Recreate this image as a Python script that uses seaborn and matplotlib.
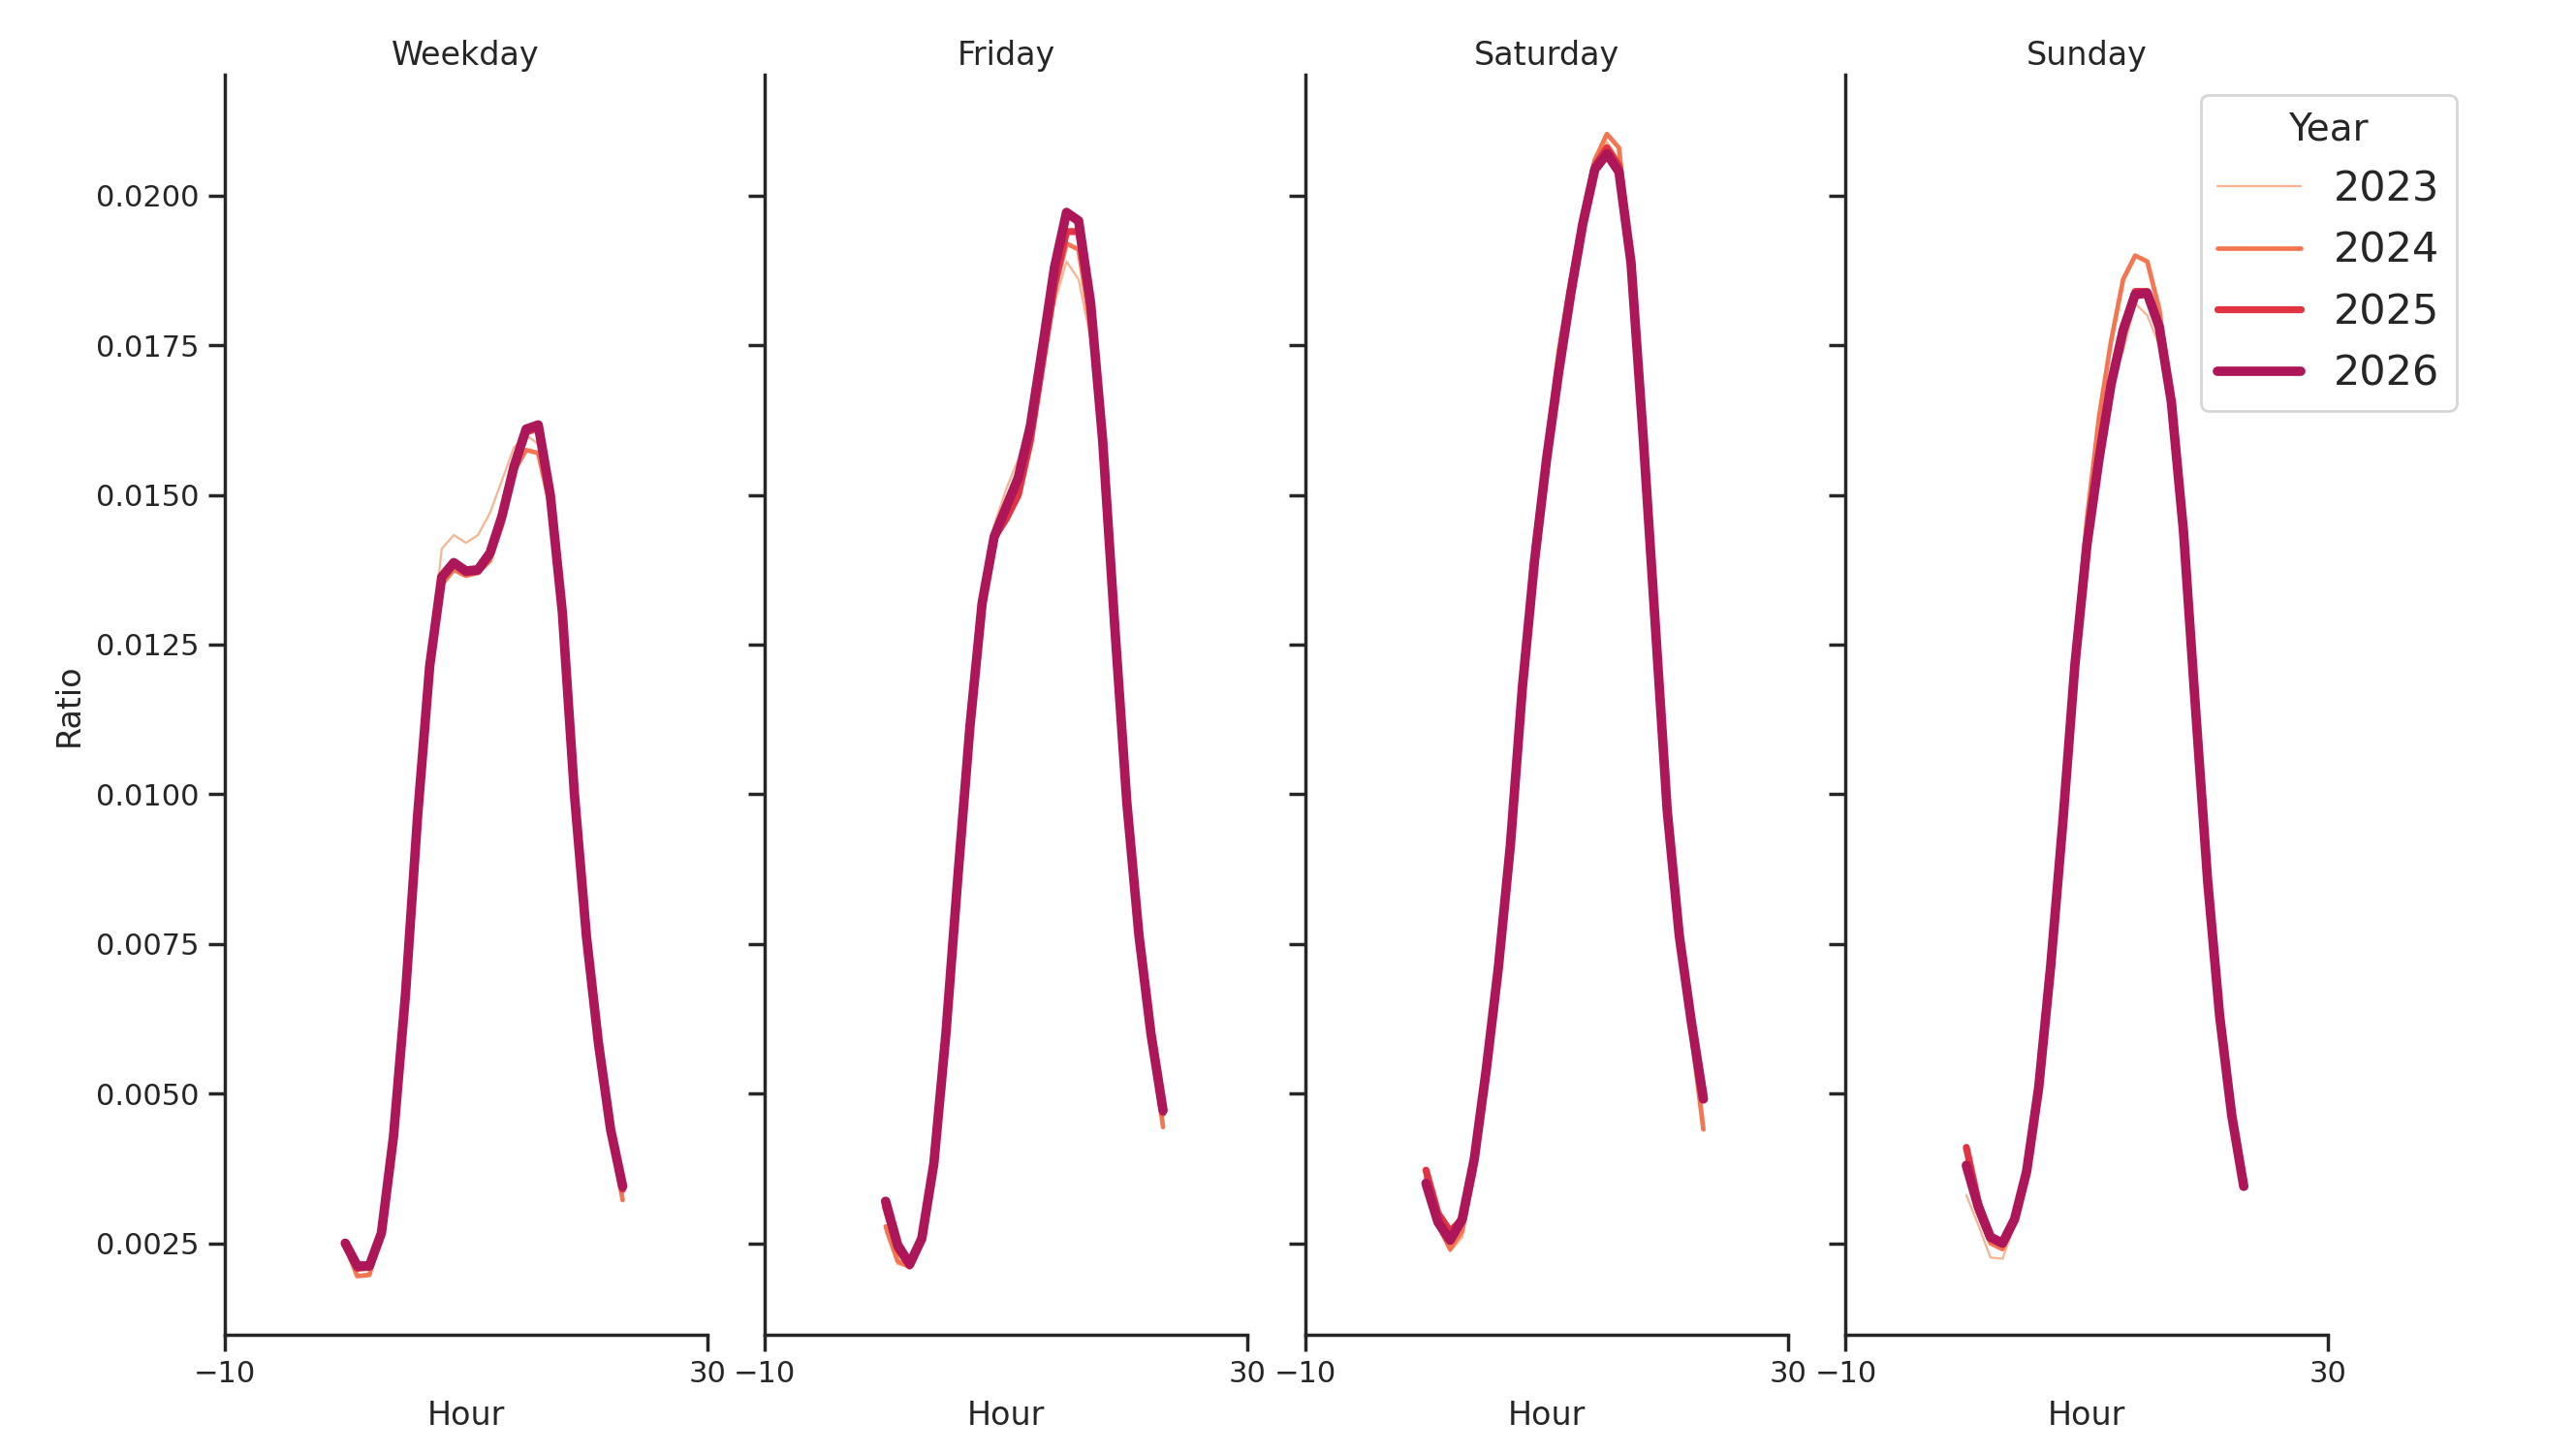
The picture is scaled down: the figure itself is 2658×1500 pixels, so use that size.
import numpy as np
import pandas as pd
import seaborn as sns
import matplotlib.pyplot as plt

hours = list(range(24))
days = ["Weekday", "Friday", "Saturday", "Sunday"]
years = [2023, 2024, 2025, 2026]

# share of daily trips per hour
weekday_2023 = [0.00245, 0.00195, 0.00200, 0.00268, 0.00425, 0.00670, 0.00970, 0.01225, 0.01410, 0.01433,
                0.01420, 0.01433, 0.01470, 0.01525, 0.01580, 0.01600, 0.01585, 0.01480, 0.01290, 0.01000,
                0.00760, 0.00580, 0.00440, 0.00330]
weekday_2024 = [0.00245, 0.00195, 0.00197, 0.00265, 0.00425, 0.00668, 0.00965, 0.01210, 0.01350, 0.01375,
                0.01365, 0.01370, 0.01390, 0.01450, 0.01540, 0.01575, 0.01570, 0.01480, 0.01290, 0.01000,
                0.00760, 0.00578, 0.00435, 0.00322]
weekday_2025 = [0.00250, 0.00208, 0.00210, 0.00268, 0.00428, 0.00668, 0.00965, 0.01214, 0.01360, 0.01385,
                0.01370, 0.01372, 0.01400, 0.01462, 0.01545, 0.01605, 0.01612, 0.01500, 0.01300, 0.01000,
                0.00762, 0.00582, 0.00440, 0.00340]
weekday_2026 = [0.00250, 0.00212, 0.00212, 0.00267, 0.00428, 0.00667, 0.00964, 0.01214, 0.01363, 0.01387,
                0.01373, 0.01375, 0.01403, 0.01465, 0.01548, 0.01610, 0.01617, 0.01500, 0.01304, 0.01000,
                0.00762, 0.00583, 0.00440, 0.00345]

friday_2023 = [0.00270, 0.00215, 0.00210, 0.00255, 0.00380, 0.00600, 0.00870, 0.01120, 0.01330, 0.01450,
               0.01510, 0.01560, 0.01630, 0.01710, 0.01820, 0.01890, 0.01860, 0.01760, 0.01570, 0.01270,
               0.00980, 0.00760, 0.00595, 0.00455]
friday_2024 = [0.00278, 0.00220, 0.00210, 0.00255, 0.00380, 0.00600, 0.00865, 0.01115, 0.01320, 0.01435,
               0.01490, 0.01530, 0.01610, 0.01720, 0.01840, 0.01920, 0.01910, 0.01780, 0.01580, 0.01275,
               0.00980, 0.00760, 0.00595, 0.00444]
friday_2025 = [0.00310, 0.00240, 0.00212, 0.00255, 0.00382, 0.00600, 0.00864, 0.01115, 0.01318, 0.01428,
               0.01460, 0.01500, 0.01590, 0.01720, 0.01850, 0.01940, 0.01940, 0.01810, 0.01588, 0.01280,
               0.00985, 0.00765, 0.00600, 0.00468]
friday_2026 = [0.00320, 0.00247, 0.00215, 0.00258, 0.00383, 0.00600, 0.00864, 0.01115, 0.01319, 0.01430,
               0.01480, 0.01529, 0.01615, 0.01745, 0.01880, 0.01972, 0.01958, 0.01820, 0.01590, 0.01280,
               0.00986, 0.00765, 0.00600, 0.00472]

saturday_2023 = [0.00360, 0.00285, 0.00236, 0.00260, 0.00360, 0.00520, 0.00695, 0.00920, 0.01190, 0.01410,
                 0.01570, 0.01730, 0.01850, 0.01960, 0.02050, 0.02090, 0.02060, 0.01890, 0.01600, 0.01285,
                 0.00970, 0.00760, 0.00610, 0.00460]
saturday_2024 = [0.00360, 0.00280, 0.00240, 0.00270, 0.00370, 0.00530, 0.00700, 0.00920, 0.01195, 0.01420,
                 0.01580, 0.01740, 0.01860, 0.01970, 0.02060, 0.02103, 0.02080, 0.01890, 0.01600, 0.01285,
                 0.00970, 0.00760, 0.00600, 0.00440]
saturday_2025 = [0.00372, 0.00300, 0.00270, 0.00290, 0.00385, 0.00540, 0.00710, 0.00920, 0.01185, 0.01395,
                 0.01562, 0.01705, 0.01838, 0.01952, 0.02050, 0.02080, 0.02050, 0.01890, 0.01602, 0.01288,
                 0.00975, 0.00765, 0.00622, 0.00500]
saturday_2026 = [0.00350, 0.00285, 0.00255, 0.00290, 0.00390, 0.00540, 0.00710, 0.00915, 0.01180, 0.01390,
                 0.01560, 0.01705, 0.01836, 0.01953, 0.02044, 0.02070, 0.02040, 0.01888, 0.01600, 0.01287,
                 0.00973, 0.00764, 0.00620, 0.00491]

sunday_2023 = [0.00330, 0.00280, 0.00226, 0.00224, 0.00280, 0.00370, 0.00510, 0.00714, 0.00960, 0.01230,
               0.01440, 0.01590, 0.01690, 0.01740, 0.01820, 0.01800, 0.01750, 0.01630, 0.01430, 0.01140,
               0.00855, 0.00628, 0.00462, 0.00342]
sunday_2024 = [0.00370, 0.00300, 0.00250, 0.00240, 0.00285, 0.00375, 0.00520, 0.00725, 0.00975, 0.01240,
               0.01460, 0.01630, 0.01757, 0.01860, 0.01900, 0.01890, 0.01810, 0.01660, 0.01440, 0.01144,
               0.00857, 0.00630, 0.00464, 0.00345]
sunday_2025 = [0.00410, 0.00318, 0.00262, 0.00250, 0.00290, 0.00372, 0.00512, 0.00716, 0.00955, 0.01218,
               0.01420, 0.01565, 0.01690, 0.01780, 0.01840, 0.01840, 0.01782, 0.01655, 0.01440, 0.01144,
               0.00857, 0.00630, 0.00464, 0.00345]
sunday_2026 = [0.00380, 0.00310, 0.00260, 0.00250, 0.00290, 0.00370, 0.00510, 0.00714, 0.00953, 0.01216,
               0.01417, 0.01560, 0.01685, 0.01775, 0.01835, 0.01837, 0.01780, 0.01655, 0.01440, 0.01144,
               0.00857, 0.00630, 0.00464, 0.00345]

ratios = {
    ("Weekday", 2023): weekday_2023, ("Weekday", 2024): weekday_2024,
    ("Weekday", 2025): weekday_2025, ("Weekday", 2026): weekday_2026,
    ("Friday", 2023): friday_2023, ("Friday", 2024): friday_2024,
    ("Friday", 2025): friday_2025, ("Friday", 2026): friday_2026,
    ("Saturday", 2023): saturday_2023, ("Saturday", 2024): saturday_2024,
    ("Saturday", 2025): saturday_2025, ("Saturday", 2026): saturday_2026,
    ("Sunday", 2023): sunday_2023, ("Sunday", 2024): sunday_2024,
    ("Sunday", 2025): sunday_2025, ("Sunday", 2026): sunday_2026,
}

rows = []
for (day, year), vals in ratios.items():
    for h, v in zip(hours, vals):
        rows.append({"Day": day, "Year": year, "Hour": h, "Ratio": v})
df = pd.DataFrame(rows)

sns.set_theme(style="ticks", context="notebook")
plt.rcParams["axes.titlepad"] = 3.5
palette = dict(zip(years, sns.color_palette("rocket_r", 6)[:4]))
sizes = dict(zip(years, [0.8, 1.7, 2.6, 3.5]))

g = sns.relplot(data=df, x="Hour", y="Ratio", col="Day", col_order=days,
                hue="Year", size="Year", hue_order=years, size_order=years,
                palette=palette, sizes=sizes, kind="line", height=6, aspect=0.55)
g.set_titles("{col_name}")
g.set(xlim=(-10, 30), xticks=[-10, 30],
      ylim=(0.00097, 0.02203), yticks=np.arange(0.0025, 0.02001, 0.0025))

g.figure.set_size_inches(13.29, 7.5)
g.figure.subplots_adjust(left=0.0872, right=0.9038, bottom=0.082, top=0.949, wspace=0.12)
sns.move_legend(g, "upper right", bbox_to_anchor=(0.9537, 0.935), frameon=True,
                fontsize=15.5, title_fontsize=14, borderaxespad=0)

g.figure.savefig("out.png", dpi=200)
